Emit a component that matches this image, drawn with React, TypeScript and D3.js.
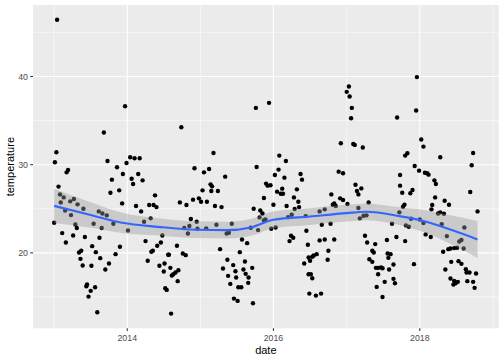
import React from 'react'
import * as d3 from 'd3'

const obs2013: [number, number][] = [
  [2013.04, 46.44], [2013.68, 33.64], [2013.03, 31.41], [2013.01, 30.27], [2013.73, 30.42], [2013.86, 29.7],
  [2013.19, 29.4], [2013.17, 29.13], [2013.79, 28.3], [2013.06, 27.51], [2013.77, 26.82], [2013.08, 26.63],
  [2013.13, 26.29], [2013.27, 26.1], [2013.22, 25.84], [2013.09, 25.72], [2013.4, 25.0], [2013.32, 25.5],
  [2013.61, 24.7], [2013.66, 24.47], [2013.72, 24.25], [2013.23, 24.28], [2013.15, 24.81], [2013.0, 23.41],
  [2013.54, 23.3], [2013.81, 23.3], [2013.29, 23.22], [2013.31, 22.81], [2013.65, 22.81], [2013.11, 22.24],
  [2013.26, 21.97], [2013.16, 21.18], [2013.42, 21.79], [2013.62, 21.71], [2013.52, 20.76], [2013.37, 20.23],
  [2013.34, 20.04], [2013.57, 20.08], [2013.84, 19.85], [2013.36, 19.32], [2013.63, 19.4], [2013.39, 18.56],
  [2013.51, 18.53], [2013.75, 18.79], [2013.7, 18.11], [2013.45, 16.41], [2013.44, 16.22], [2013.56, 16.1],
  [2013.5, 15.69], [2013.47, 15.04], [2013.59, 13.26], [2013.97, 36.63], [2013.99, 30.19], [2013.94, 28.94],
  [2013.89, 27.09], [2013.93, 25.61], [2013.9, 20.69],
]
const obs2014: [number, number][] = [
  [2014.74, 34.25], [2014.04, 30.84], [2014.1, 30.72], [2014.17, 30.72], [2014.15, 28.94], [2014.06, 28.41],
  [2014.08, 27.81], [2014.21, 28.22], [2014.38, 26.52], [2014.72, 25.72], [2014.81, 25.42], [2014.9, 26.03],
  [2014.12, 25.31], [2014.3, 25.42], [2014.36, 25.42], [2014.4, 25.19], [2014.19, 24.7], [2014.32, 23.91],
  [2014.87, 23.83], [2014.23, 23.53], [2014.85, 23.04], [2014.78, 22.81], [2014.01, 22.54], [2014.48, 21.97],
  [2014.83, 22.2], [2014.25, 21.33], [2014.46, 21.18], [2014.41, 20.8], [2014.68, 20.8], [2014.35, 20.23],
  [2014.33, 20.12], [2014.56, 19.78], [2014.57, 19.78], [2014.76, 19.93], [2014.8, 19.74], [2014.28, 19.1],
  [2014.51, 18.79], [2014.44, 18.53], [2014.59, 18.3], [2014.5, 17.88], [2014.7, 18.03], [2014.66, 17.77],
  [2014.63, 17.58], [2014.61, 17.43], [2014.69, 16.79], [2014.52, 15.99], [2014.54, 15.8], [2014.6, 13.11],
  [2014.92, 29.59], [2014.98, 26.18], [2014.95, 23.53], [2014.96, 22.73],
]
const obs2015: [number, number][] = [
  [2015.76, 36.44], [2015.94, 37.01], [2015.18, 31.33], [2015.77, 29.74], [2015.12, 29.51], [2015.05, 29.13],
  [2015.34, 28.64], [2015.9, 27.85], [2015.92, 27.62], [2015.14, 27.77], [2015.16, 27.54], [2015.03, 27.09],
  [2015.24, 27.01], [2015.15, 27.01], [2015.01, 25.8], [2015.09, 25.8], [2015.87, 26.22], [2015.2, 25.31],
  [2015.29, 25.19], [2015.73, 25.0], [2015.82, 24.81], [2015.85, 24.47], [2015.81, 24.02], [2015.43, 23.3],
  [2015.22, 23.19], [2015.89, 23.79], [2015.87, 23.68], [2015.08, 22.77], [2015.69, 22.85], [2015.79, 22.58],
  [2015.36, 22.2], [2015.39, 22.28], [2015.57, 21.52], [2015.64, 21.1], [2015.27, 20.42], [2015.54, 20.08],
  [2015.37, 19.21], [2015.61, 19.02], [2015.31, 18.23], [2015.45, 18.61], [2015.71, 18.3], [2015.48, 17.92],
  [2015.59, 18.11], [2015.62, 17.62], [2015.38, 17.39], [2015.49, 17.2], [2015.66, 17.2], [2015.41, 16.48],
  [2015.655, 16.6], [2015.52, 16.1], [2015.56, 16.1], [2015.46, 14.81], [2015.51, 14.55], [2015.72, 14.28],
  [2015.96, 27.66], [2015.97, 22.73],
]
const obs2016: [number, number][] = [
  [2016.92, 32.43], [2016.08, 31.03], [2016.17, 30.42], [2016.07, 29.44], [2016.02, 28.83], [2016.15, 28.53],
  [2016.37, 28.94], [2016.39, 28.3], [2016.89, 29.21], [2016.95, 29.02], [2016.05, 26.94], [2016.12, 27.28],
  [2016.1, 26.71], [2016.13, 26.71], [2016.32, 27.2], [2016.28, 26.29], [2016.34, 25.8], [2016.79, 26.63],
  [2016.0, 25.46], [2016.91, 26.18], [2016.95, 25.99], [2016.18, 25.31], [2016.35, 25.19], [2016.83, 25.61],
  [2016.85, 25.31], [2016.81, 25.46], [2016.29, 24.97], [2016.25, 24.32], [2016.7, 24.93], [2016.63, 24.7],
  [2016.03, 22.88], [2016.2, 24.05], [2016.44, 24.17], [2016.78, 23.3], [2016.66, 23.19], [2016.45, 22.5],
  [2016.24, 21.94], [2016.27, 21.71], [2016.22, 21.33], [2016.7, 21.52], [2016.63, 21.41], [2016.83, 21.52],
  [2016.47, 20.92], [2016.75, 20.23], [2016.59, 19.85], [2016.55, 19.7], [2016.53, 19.55], [2016.48, 19.47],
  [2016.5, 19.1], [2016.74, 19.21], [2016.42, 18.79], [2016.48, 17.58], [2016.51, 17.58], [2016.53, 17.12],
  [2016.49, 15.38], [2016.58, 15.15], [2016.65, 15.38],
]
const obs2017: [number, number][] = [
  [2017.03, 38.87], [2017.0, 38.26], [2017.04, 37.73], [2017.96, 39.93], [2017.07, 36.44], [2017.95, 36.14],
  [2017.06, 35.27], [2017.69, 35.35], [2017.09, 32.35], [2017.11, 32.24], [2017.22, 31.94], [2017.83, 31.29],
  [2017.8, 31.03], [2017.93, 29.85], [2017.99, 29.32], [2017.73, 28.83], [2017.12, 27.73], [2017.2, 27.31],
  [2017.14, 27.01], [2017.16, 26.63], [2017.73, 27.62], [2017.9, 27.12], [2017.87, 26.75], [2017.76, 26.82],
  [2017.01, 25.54], [2017.3, 25.72], [2017.79, 25.46], [2017.77, 25.23], [2017.16, 25.08], [2017.72, 24.59],
  [2017.27, 24.25], [2017.23, 24.21], [2017.18, 23.91], [2017.88, 23.87], [2017.62, 23.3], [2017.81, 23.11],
  [2017.85, 22.96], [2017.25, 21.94], [2017.28, 21.18], [2017.39, 20.99], [2017.55, 21.45], [2017.68, 21.79],
  [2017.8, 21.33], [2017.35, 20.23], [2017.37, 20.04], [2017.56, 19.93], [2017.6, 19.85], [2017.31, 19.28],
  [2017.35, 18.98], [2017.57, 19.43], [2017.64, 18.68], [2017.4, 18.3], [2017.43, 18.3], [2017.47, 18.34],
  [2017.49, 18.26], [2017.58, 18.11], [2017.92, 18.72], [2017.43, 17.58], [2017.64, 17.05], [2017.66, 16.56],
  [2017.52, 16.71], [2017.41, 16.14], [2017.49, 15.0],
]
const obs2018: [number, number][] = [
  [2018.02, 32.85], [2018.05, 32.05], [2018.0, 23.79], [2018.28, 30.84], [2018.73, 31.33], [2018.71, 29.93],
  [2018.07, 29.09], [2018.1, 29.02], [2018.12, 28.87], [2018.2, 28.22], [2018.22, 27.81], [2018.21, 26.29],
  [2018.34, 25.91], [2018.4, 25.46], [2018.69, 26.9], [2018.79, 24.7], [2018.17, 25.42], [2018.16, 24.93],
  [2018.25, 24.47], [2018.28, 24.59], [2018.33, 24.44], [2018.05, 23.38], [2018.3, 23.26], [2018.08, 22.09],
  [2018.15, 21.79], [2018.37, 21.9], [2018.61, 22.88], [2018.57, 21.45], [2018.54, 21.29], [2018.6, 20.5],
  [2018.32, 20.12], [2018.39, 20.42], [2018.42, 20.5], [2018.47, 20.54], [2018.51, 20.57], [2018.43, 18.98],
  [2018.53, 19.06], [2018.57, 18.75], [2018.35, 18.11], [2018.63, 18.15], [2018.64, 17.77], [2018.68, 17.77],
  [2018.77, 17.65], [2018.42, 17.09], [2018.47, 16.82], [2018.49, 16.56], [2018.46, 16.4], [2018.52, 16.71],
  [2018.65, 16.79], [2018.73, 16.71], [2018.75, 16.03],
]

// loess smooth: fit and half width of the band
const smoothYears = [2013.0, 2013.5, 2013.93, 2014.42, 2014.95, 2015.37, 2015.69, 2016.0, 2016.5, 2017.0, 2017.27, 2017.72, 2018.05, 2018.45, 2018.79]
const smoothFit = [25.33, 24.3, 23.41, 22.95, 22.62, 22.58, 22.88, 23.75, 24.12, 24.5, 24.66, 24.17, 23.62, 22.55, 21.52]
const smoothBand = [1.95, 1.45, 1.15, 0.98, 0.95, 0.95, 0.95, 0.95, 0.95, 0.95, 0.95, 1.0, 1.25, 1.65, 2.1]

const xMajor = [2014, 2016, 2018]
const xMinor = [2013, 2015, 2017, 2019]
const yMajor = [20, 30, 40]
const yMinor = [15, 25, 35, 45]

const toDate = (y: number) => {
  const yr = Math.floor(y)
  const a = Date.UTC(yr, 0, 1)
  const b = Date.UTC(yr + 1, 0, 1)
  return new Date(a + (y - yr) * (b - a))
}

const W = 504
const H = 360
const left = 33
const right = 498.7
const top = 5
const bottom = 328.3
const font = 'Liberation Sans, Arial, Helvetica, sans-serif'

export default function App() {
  const points = [...obs2013, ...obs2014, ...obs2015, ...obs2016, ...obs2017, ...obs2018]
    .map(([yr, t]) => ({ date: toDate(yr), temp: t }))

  const [d0, d1] = d3.extent(points, d => +d.date) as [number, number]
  const dx = (d1 - d0) * 0.05
  const x = d3.scaleTime().domain([new Date(d0 - dx), new Date(d1 + dx)]).range([left, right])

  const [t0, t1] = d3.extent(points, d => d.temp) as [number, number]
  const dy = (t1 - t0) * 0.05
  const y = d3.scaleLinear().domain([t0 - dy, t1 + dy]).range([bottom, top])

  const smooth = smoothYears.map((yr, i) => ({ date: toDate(yr), fit: smoothFit[i], se: smoothBand[i] }))
  const area = d3.area<typeof smooth[0]>()
    .x(d => x(d.date))
    .y0(d => y(d.fit - d.se))
    .y1(d => y(d.fit + d.se))
    .curve(d3.curveMonotoneX)
  const line = d3.line<typeof smooth[0]>()
    .x(d => x(d.date))
    .y(d => y(d.fit))
    .curve(d3.curveMonotoneX)

  return (
    <svg width={W} height={H} style={{ position: 'absolute', left: 0, top: 0, background: '#fff' }}>
      <rect x={left} y={top} width={right - left} height={bottom - top} fill="#EBEBEB" />
      {/* minor grid */}
      {xMinor.map(v => (
        <line key={'xm' + v} x1={x(toDate(v))} x2={x(toDate(v))} y1={top} y2={bottom} stroke="#fff" strokeWidth={0.53} />
      ))}
      {yMinor.map(v => (
        <line key={'ym' + v} x1={left} x2={right} y1={y(v)} y2={y(v)} stroke="#fff" strokeWidth={0.53} />
      ))}
      {/* major grid */}
      {xMajor.map(v => (
        <line key={'xM' + v} x1={x(toDate(v))} x2={x(toDate(v))} y1={top} y2={bottom} stroke="#fff" strokeWidth={1.07} />
      ))}
      {yMajor.map(v => (
        <line key={'yM' + v} x1={left} x2={right} y1={y(v)} y2={y(v)} stroke="#fff" strokeWidth={1.07} />
      ))}

      {points.map((d, i) => (
        <circle key={i} cx={x(d.date)} cy={y(d.temp)} r={2.2} fill="#000" />
      ))}

      <path d={area(smooth) || ''} fill="#999999" fillOpacity={0.4} />
      <path d={line(smooth) || ''} fill="none" stroke="#3366FF" strokeWidth={2.13} />

      {/* axes */}
      {yMajor.map(v => (
        <g key={'yt' + v}>
          <line x1={left - 2.75} x2={left} y1={y(v)} y2={y(v)} stroke="#333333" strokeWidth={1.07} />
          <text x={left - 5} y={y(v)} dy="0.35em" textAnchor="end" fontSize={8.8} fill="#4D4D4D" fontFamily={font}>{v}</text>
        </g>
      ))}
      {xMajor.map(v => (
        <g key={'xt' + v}>
          <line x1={x(toDate(v))} x2={x(toDate(v))} y1={bottom} y2={bottom + 2.75} stroke="#333333" strokeWidth={1.07} />
          <text x={x(toDate(v))} y={340.5} textAnchor="middle" fontSize={8.8} fill="#4D4D4D" fontFamily={font}>{v}</text>
        </g>
      ))}
      <text x={(left + right) / 2} y={353.5} textAnchor="middle" fontSize={11} fill="#000" fontFamily={font}>date</text>
      <text transform={`translate(13.5,${(top + bottom) / 2}) rotate(-90)`} textAnchor="middle" fontSize={11} fill="#000" fontFamily={font}>temperature</text>
    </svg>
  )
}
